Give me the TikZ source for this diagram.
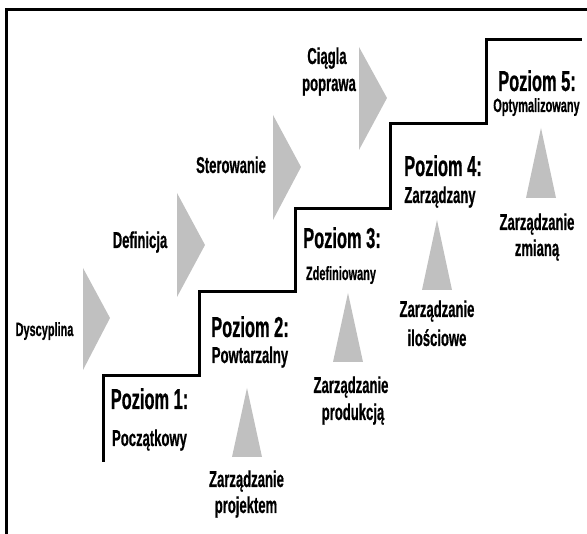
\documentclass[tikz,border=0pt]{standalone}
\usepackage{fontspec}
\newfontfamily\lbl{Liberation Sans}[FakeStretch=0.57, BoldFeatures={FakeBold=0.6}]
\definecolor{tri}{RGB}{192,192,192}
\tikzset{
  big/.style={inner sep=0pt, anchor=base, font=\lbl\bfseries\fontsize{21.6}{26}\selectfont},
  mid/.style={inner sep=0pt, anchor=base, font=\lbl\bfseries\fontsize{17.2}{21}\selectfont},
  small/.style={inner sep=0pt, anchor=base, font=\lbl\bfseries\fontsize{14.4}{17}\selectfont},
  rule/.style={line width=2.25pt, line cap=rect},
  stairline/.style={line width=2.25pt, line join=miter},
  tripiece/.style={fill=tri}
}
\begin{document}
\begin{tikzpicture}[x=0.75pt, y=-0.75pt]
\useasboundingbox (0,0) rectangle (587,534);
% frame
\coordinate (fb) at (6,545);
\coordinate (fc) at (6,10);
\coordinate (fr) at (600,10);
\draw[rule] (fb) -- (fc) -- (fr);
% staircase
\draw[stairline] (103,462) -- (103,376) -- (199,376) -- (199,292) -- (295,292)
  -- (295,209) -- (390,209) -- (390,124) -- (486,124) -- (486,40) -- (582,40);
% right-pointing triangles
\fill[tripiece] (83,268) -- (110,318) -- (83,370) -- cycle;
\fill[tripiece] (177,193) -- (205,245) -- (177,297) -- cycle;
\fill[tripiece] (273,115) -- (301,167) -- (273,220) -- cycle;
\fill[tripiece] (359,47) -- (387,98) -- (359,150) -- cycle;
% upward triangles
\fill[tripiece] (232,457) -- (247,388) -- (262,457) -- cycle;
\fill[tripiece] (333,362) -- (348,293) -- (363,362) -- cycle;
\fill[tripiece] (422,290) -- (437,220) -- (452,290) -- cycle;
\fill[tripiece] (526,198) -- (541,128) -- (556,198) -- cycle;
% process labels
\node[small] (dys) at (44.5,336) {Dyscyplina};
\node[mid] (def) at (140,248) {Definicja};
\node[mid] (ster) at (231,173) {Sterowanie};
\node[mid] (cp1) at (327,64) {Ciągla};
\node[mid] (cp2) at (329,91) {poprawa};
% levels
\node[big] (p1) at (149.5,409) {Poziom 1:};
\node[mid] (p1s) at (149.5,446) {Początkowy};
\node[big] (p2) at (250,337) {Poziom 2:};
\node[mid] (p2s) at (250,363) {Powtarzalny};
\node[big] (p3) at (342,248) {Poziom 3:};
\node[small] (p3s) at (341,280) {Zdefiniowany};
\node[big] (p4) at (443,176) {Poziom 4:};
\node[mid] (p4s) at (440,203) {Zarządzany};
\node[big] (p5) at (537,91) {Poziom 5:};
\node[small] (p5s) at (536.5,112) {Optymalizowany};
% management labels
\node[mid] (m1a) at (246.5,487) {Zarządzanie};
\node[mid] (m1b) at (246,513) {projektem};
\node[mid] (m2a) at (351,393) {Zarządzanie};
\node[mid] (m2b) at (353,420) {produkcją};
\node[mid] (m3a) at (437,317) {Zarządzanie};
\node[mid] (m3b) at (437,346) {ilościowe};
\node[mid] (m4a) at (537,230) {Zarządzanie};
\node[mid] (m4b) at (537,256) {zmianą};
\end{tikzpicture}
\end{document}
